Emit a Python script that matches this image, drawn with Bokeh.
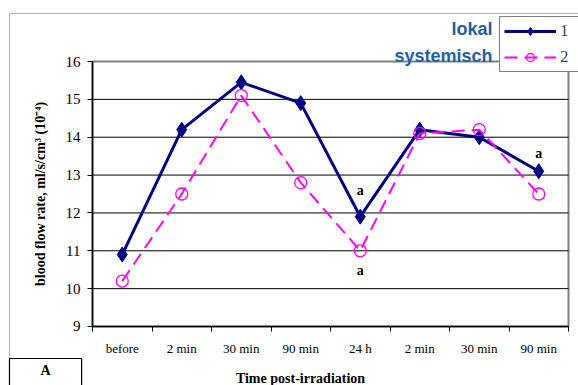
from bokeh.plotting import figure
from bokeh.models import (Range1d, FixedTicker, Legend, LegendItem, Label, BoxAnnotation,
                          ColumnDataSource, LabelSet)
from bokeh.embed import file_html
from bokeh.resources import INLINE

categories = ["before", "2 min", "30 min", "90 min", "24 h", "2 min", "30 min", "90 min"]
series1 = [10.9, 14.2, 15.45, 14.9, 11.9, 14.2, 14.0, 13.1]
series2 = [10.2, 12.5, 15.1, 12.8, 11.0, 14.1, 14.2, 12.5]
y_ticks = [9, 10, 11, 12, 13, 14, 15, 16]
# "a" marks: category index, the value they sit next to, pixel offset
a_idx = [4, 4, 7]
a_val = [series1[4], series2[4], series1[7]]
a_off = [26, -20, 18]

n = len(categories)
xs = list(range(n))
SERIF = "Liberation Serif"
W, H = 578, 385

# frame covers the whole canvas; axes are pinned with fixed_location
PX_X = 59.5          # px per category
PX_Y = 37.857        # px per y unit
x0 = -0.5 - 92 / PX_X
x1 = n - 0.5 + (W - 568) / PX_X
y1 = y_ticks[-1] + 61 / PX_Y
y0 = y_ticks[0] - (H - 326) / PX_Y

def cx(px):
    return x0 + px / PX_X

def cy(py):
    return y1 - py / PX_Y

p = figure(width=W, height=H, output_backend="svg", toolbar_location=None,
           x_range=Range1d(x0, x1), y_range=Range1d(y0, y1),
           min_border=0, min_border_left=0, min_border_right=0,
           min_border_top=0, min_border_bottom=0,
           background_fill_color="white", border_fill_color="white")
p.outline_line_color = None
p.xgrid.visible = False
p.ygrid.visible = False

# plot-area border (gray) and horizontal grid lines (black)
p.quad(left=[-0.5], right=[n - 0.5], bottom=[y_ticks[0]], top=[y_ticks[-1]],
       fill_color=None, line_color="#808080", line_width=2)
grid_y = y_ticks[1:-1]
p.segment(x0=[-0.5] * len(grid_y), x1=[n - 0.5] * len(grid_y), y0=grid_y, y1=grid_y,
          line_color="black", line_width=1)

# y axis
yax = p.yaxis[0]
yax.fixed_location = -0.5
yax.bounds = (y_ticks[0], y_ticks[-1])
yax.ticker = FixedTicker(ticks=y_ticks)
yax.axis_line_color = "black"
yax.axis_line_width = 1.5
yax.major_tick_in = 0
yax.major_tick_out = 5
yax.minor_tick_line_color = None
yax.major_label_text_font = SERIF
yax.major_label_text_font_size = "15px"
yax.major_label_text_color = "black"
yax.major_label_standoff = 7
yax.axis_label = "blood flow rate, ml/s/cm\u00b3 (10\u207b\u2074)"
yax.axis_label_text_font = SERIF
yax.axis_label_text_font_size = "14px"
yax.axis_label_text_font_style = "bold"
yax.axis_label_text_color = "black"
yax.axis_label_standoff = 15

# x axis: labels at category centres, ticks at category boundaries
xax = p.xaxis[0]
xax.fixed_location = y_ticks[0]
xax.bounds = (-0.5, n - 0.5)
xax.ticker = FixedTicker(ticks=xs, minor_ticks=[i - 0.5 for i in range(n + 1)])
xax.major_label_overrides = {i: c for i, c in enumerate(categories)}
xax.major_tick_line_color = None
xax.major_tick_in = 0
xax.major_tick_out = 0
xax.minor_tick_in = 0
xax.minor_tick_out = 5
xax.minor_tick_line_color = "black"
xax.axis_line_color = "black"
xax.axis_line_width = 1.5
xax.major_label_text_font = SERIF
xax.major_label_text_font_size = "13px"
xax.major_label_text_color = "black"
xax.major_label_standoff = 10

# series
l1 = p.line(xs, series1, line_color="#000080", line_width=3)
m1 = p.scatter(xs, series1, marker="diamond", size=15, fill_color="#000080", line_color="#000080")
l2 = p.line(xs, series2, line_color="#FF00FF", line_width=2, line_dash="13 7")
m2 = p.scatter(xs, series2, marker="circle", size=12, fill_color=None, line_color="#FF00FF",
               line_width=1.3)

# "a" annotations
src = ColumnDataSource(dict(x=a_idx, y=a_val, off=a_off, t=["a"] * len(a_idx)))
p.add_layout(LabelSet(x="x", y="y", text="t", y_offset="off", source=src,
                      text_font=SERIF, text_font_style="bold", text_font_size="14px",
                      text_align="center", text_baseline="middle", text_color="black"))

# legend
legend = Legend(items=[LegendItem(label="1", renderers=[l1, m1]),
                       LegendItem(label="2", renderers=[l2, m2])],
                location=(499, H - 72), orientation="vertical",
                label_text_font=SERIF, label_text_font_size="17px",
                glyph_width=52, glyph_height=20, label_standoff=4,
                padding=4, spacing=6, margin=0,
                border_line_color="black", border_line_width=1.2,
                background_fill_color="white", background_fill_alpha=1)
p.add_layout(legend, "center")

# lokal / systemisch
for txt, py in [("lokal", 28), ("systemisch", 55)]:
    p.add_layout(Label(x=cx(492), y=cy(py), text=txt, text_align="right", text_baseline="middle",
                       text_font="Liberation Sans", text_font_style="bold",
                       text_font_size="18px", text_color="#1F5F9F"))

# x axis title
p.add_layout(Label(x=cx(300), y=cy(378), text="Time post-irradiation", text_align="center",
                   text_baseline="middle", text_font=SERIF, text_font_style="bold",
                   text_font_size="14px", text_color="black"))

# outer chart border
p.add_layout(BoxAnnotation(left=cx(9), right=cx(W + 20), top=cy(13), bottom=cy(H + 20),
                           fill_color=None, fill_alpha=0, line_color="black", line_width=1))

# "A" box
p.add_layout(Label(x=cx(9), y=cy(358), text="A", text_align="left", text_baseline="top",
                   text_font=SERIF, text_font_style="bold", text_font_size="14px",
                   text_color="black", padding=(31, 31, 4, 10),
                   border_line_color="black", border_line_width=1.2,
                   background_fill_color="white"))

open("out.html", "w").write(file_html(p, INLINE))
